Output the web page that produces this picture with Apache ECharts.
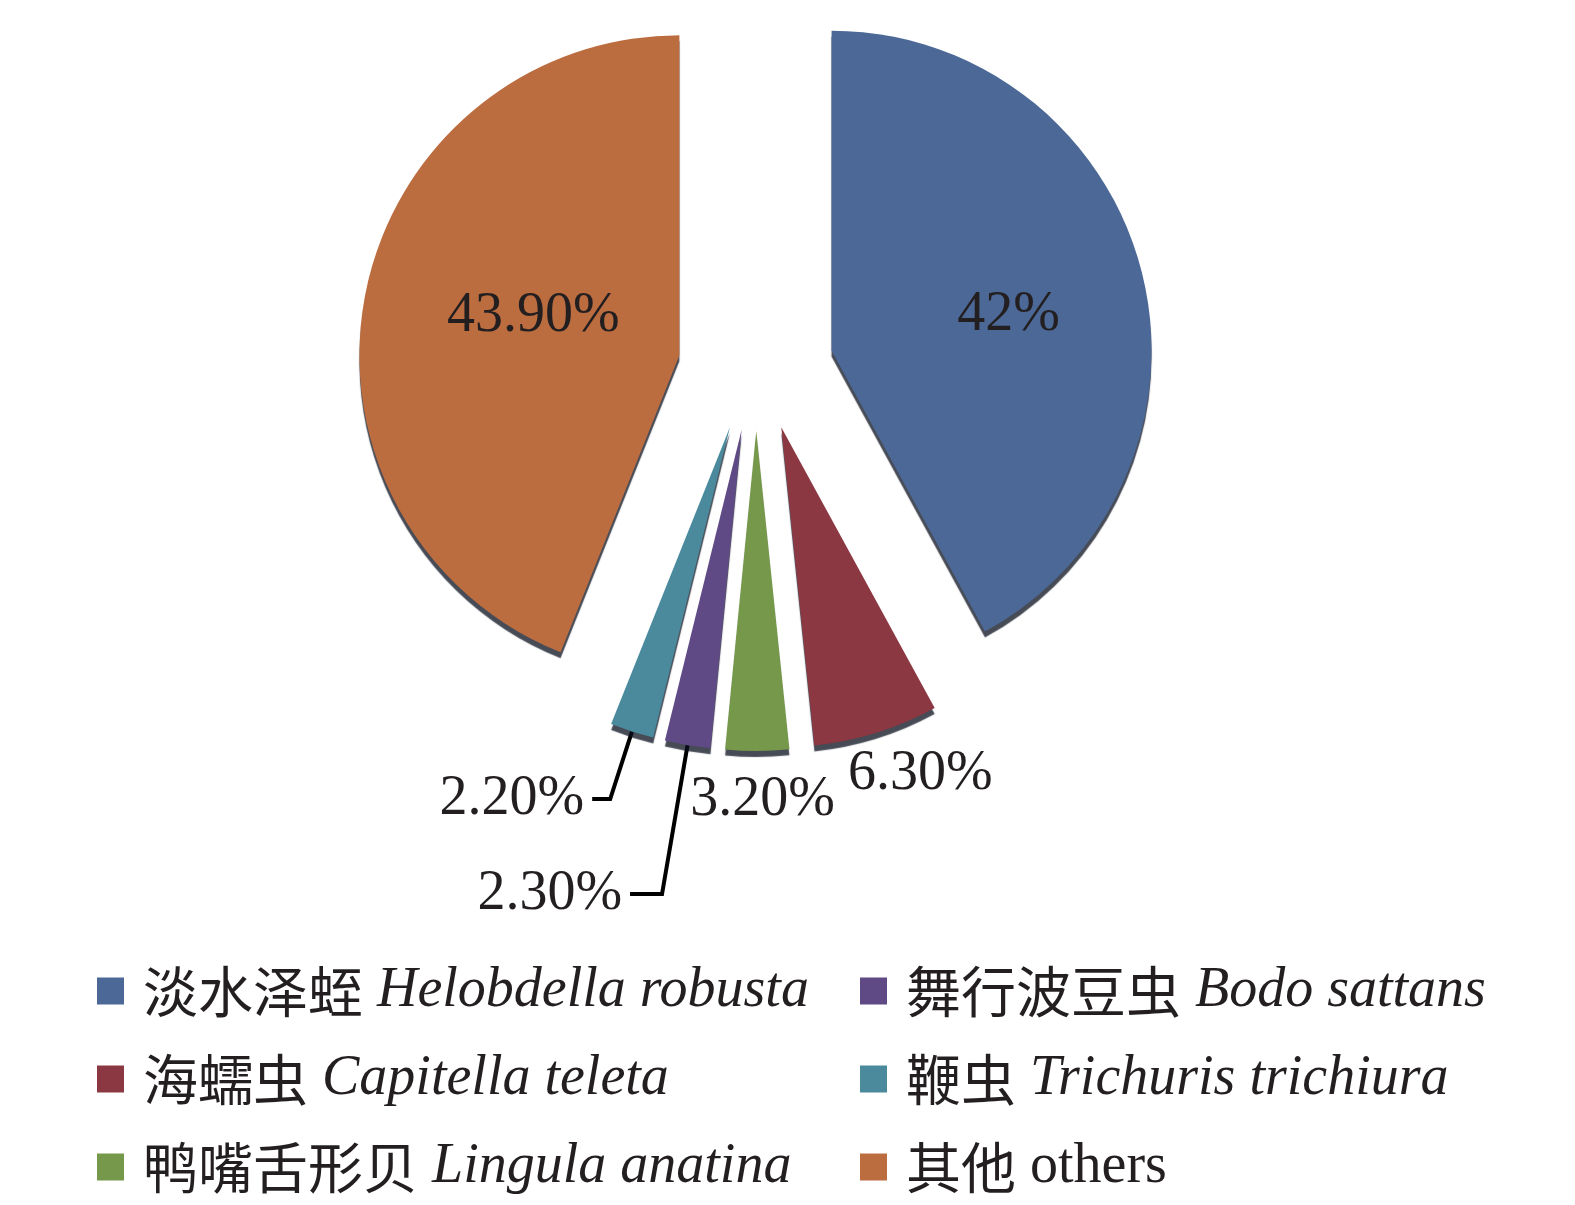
<!DOCTYPE html>
<html><head><meta charset="utf-8">
<script src="https://cdn.jsdelivr.net/npm/echarts@6/dist/echarts.min.js"></script>
<style>html,body{margin:0;padding:0;background:#fff}#c{width:1575px;height:1205px}</style>
</head><body><div id="c"></div><script>
// ---- data ----
const cnNames = ['淡水泽蛭', '海蠕虫', '鸭嘴舌形贝', '舞行波豆虫', '鞭虫', '其他'];
const latinNames = ['Helobdella robusta', 'Capitella teleta', 'Lingula anatina', 'Bodo sattans', 'Trichuris trichiura', 'others'];
const values = [42, 6.3, 3.2, 2.3, 2.2, 43.9];
const valueLabels = ['42%', '6.30%', '3.20%', '2.30%', '2.20%', '43.90%'];
const legendLeftIdx = [0, 1, 2];
const legendRightIdx = [3, 4, 5];

// ---- styles ----
const colors = ['#4B6897', '#8C3843', '#76984A', '#5F4A86', '#4A8A9C', '#BC6D40'];
const serif = "'Liberation Serif', 'Times New Roman', 'Noto Sans CJK SC', serif";
const textColor = '#231F20';

// explode groups: big slices and small slices are pulled out differently
const sliceGroup = [0, 1, 1, 1, 1, 0];
const groupOffset = [78, 85];
const groupCenter = [[756, 370], [756, 346]];
const labelCfg = [
  { position: 'inside', line: false, length: 10, length2: 0, dx: 19, dy: 5 },
  { position: 'outside', line: false, length: 15, length2: 0, dx: -41, dy: 27 },
  { position: 'outside', line: false, length: 15, length2: 0, dx: -75, dy: 34 },
  { position: 'outside', line: true, length: 151, length2: 32, dx: 0, dy: 0 },
  { position: 'outside', line: true, length: 71, length2: 18, dx: 0, dy: 0 },
  { position: 'inside', line: false, length: 10, length2: 0, dx: 14, dy: -8 }
];

const chart = echarts.init(document.getElementById('c'), null, { renderer: 'canvas' });

function legendFormatter(name) {
  const i = cnNames.indexOf(name);
  const latinKey = latinNames[i] === 'others' ? 'la' : 'it';
  return '{cn|' + name + '}{' + latinKey + '| ' + latinNames[i] + '}';
}
const legendRich = {
  cn: { fontFamily: "'Noto Sans CJK SC', serif", fontSize: 55, color: textColor, padding: [0, 0, 0, 14] },
  it: { fontFamily: serif, fontStyle: 'italic', fontSize: 56, color: textColor },
  la: { fontFamily: serif, fontSize: 56, color: textColor }
};
function makeLegend(idx, left) {
  return {
    data: idx.map(i => cnNames[i]),
    orient: 'vertical',
    left: left,
    top: 961,
    padding: 0,
    itemWidth: 27,
    itemHeight: 27,
    itemGap: 28,
    icon: 'rect',
    selectedMode: false,
    formatter: legendFormatter,
    textStyle: { rich: legendRich, lineHeight: 60 }
  };
}

function makeSeries(group) {
  return {
    type: 'pie',
    center: groupCenter[group],
    radius: 320,
    startAngle: 90,
    clockwise: true,
    selectedMode: 'multiple',
    selectedOffset: groupOffset[group],
    avoidLabelOverlap: false,
    emphasis: { disabled: true },
    select: { itemStyle: { borderWidth: 0 } },
    itemStyle: { shadowColor: 'rgba(10,15,30,0.75)', shadowOffsetY: 6, shadowOffsetX: 0, shadowBlur: 1 },
    label: {
      formatter: p => valueLabels[p.dataIndex],
      fontFamily: serif,
      fontSize: 56,
      color: textColor
    },
    labelLine: { lineStyle: { color: '#000', width: 4 } },
    labelLayout: function (p) {
      const c = labelCfg[p.dataIndex];
      return { dx: c.dx, dy: c.dy };
    },
    data: values.map((v, i) => {
      const visible = sliceGroup[i] === group;
      if (!visible) {
        return {
          name: '_hidden_' + i,
          value: v,
          selected: false,
          itemStyle: { color: 'rgba(0,0,0,0)', shadowColor: 'rgba(0,0,0,0)' },
          label: { show: false },
          labelLine: { show: false }
        };
      }
      return {
        name: cnNames[i],
        value: v,
        selected: true,
        itemStyle: { color: colors[i] },
        label: { position: labelCfg[i].position, distanceToLabelLine: 8 },
        labelLine: { show: labelCfg[i].line, length: labelCfg[i].length, length2: labelCfg[i].length2 }
      };
    })
  };
}

chart.setOption({
  backgroundColor: '#ffffff',
  animation: false,
  legend: [makeLegend(legendLeftIdx, 97), makeLegend(legendRightIdx, 860)],
  series: [makeSeries(0), makeSeries(1)]
});
</script></body></html>
